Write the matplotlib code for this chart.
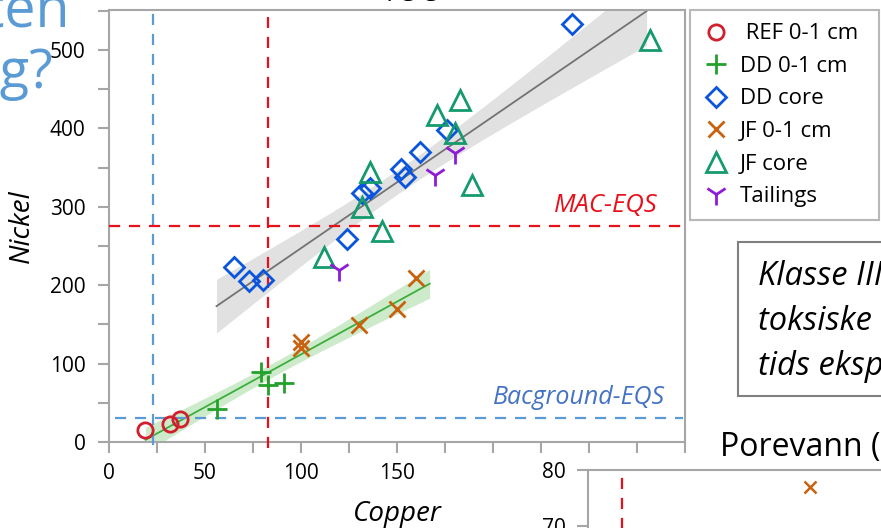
import numpy as np
import matplotlib
matplotlib.use('Agg')
import matplotlib.pyplot as plt
from matplotlib.lines import Line2D
from matplotlib.patches import Rectangle

plt.rcParams['font.family'] = 'Open Sans'

# sediment concentrations, copper vs nickel
ref_cu = [19, 32, 37]
ref_ni = [15, 23, 29]
dd_top_cu = [56, 79, 83, 91]
dd_top_ni = [42, 89, 73, 75]
dd_core_cu = [65, 73, 80, 124, 132, 136, 152, 154, 162, 176, 241]
dd_core_ni = [223, 205, 207, 259, 317, 324, 348, 338, 370, 398, 533]
jf_top_cu = [100, 100, 130, 150, 160]
jf_top_ni = [128, 120, 149, 170, 209]
jf_core_cu = [112, 132, 136, 142, 171, 180, 183, 189, 282]
jf_core_ni = [236, 300, 344, 269, 417, 394, 436, 328, 513]
tail_cu = [120, 170, 180]
tail_ni = [219, 341, 369]

# quality standards
cu_bg, ni_bg = 23, 30
cu_mac, ni_mac = 83, 275

# porewater panel
pw_cu = [13]
pw_ni = [77]
pw_cu_mac = 2

RED = '#E8101A'
BLUE_EQS = '#5B9BD5'
C_REF = '#D11F2E'
C_DDTOP = '#23A12B'
C_DDCORE = '#0A55DB'
C_JFTOP = '#C8620E'
C_JFCORE = '#159A6E'
C_TAIL = '#8E1CD6'
SPINE = '#A6A6A6'


def fit_band(x, y, x0, x1, t):
    x = np.asarray(x, float)
    y = np.asarray(y, float)
    slope, icpt = np.polyfit(x, y, 1)
    n = len(x)
    s = np.sqrt(((y - (icpt + slope * x)) ** 2).sum() / (n - 2))
    xs = np.linspace(x0, x1, 100)
    ys = icpt + slope * xs
    half = t * s * np.sqrt(1 / n + (xs - x.mean()) ** 2 / ((x - x.mean()) ** 2).sum())
    return xs, ys, half


fig = plt.figure(figsize=(8.81, 5.28), dpi=100)
W, H = 881, 528

ax = fig.add_axes([109 / W, 1 - 442 / H, 576 / W, 432 / H])
ax.set_xlim(0, 300)
ax.set_ylim(0, 551)

# regression lines with 95% confidence bands
top_cu = ref_cu + dd_top_cu + jf_top_cu
top_ni = ref_ni + dd_top_ni + jf_top_ni
xs, ys, hw = fit_band(top_cu, top_ni, 19, 167, 2.228)
ax.fill_between(xs, ys - hw, ys + hw, color='#CDEBCB', lw=0, zorder=1)
ax.plot(xs, ys, color='#3DAE3D', lw=1.3, zorder=2)

core_cu = dd_core_cu + jf_core_cu + tail_cu
core_ni = dd_core_ni + jf_core_ni + tail_ni
xs, ys, hw = fit_band(core_cu, core_ni, 56, 280, 2.080)
ax.fill_between(xs, ys - hw, ys + hw, color='#E1E1E1', lw=0, zorder=1)
ax.plot(xs, ys, color='#737373', lw=1.3, zorder=2)

# EQS guide lines
ax.plot([cu_mac, cu_mac], [-8, 542], color=RED, lw=1.6, dashes=(5, 4), clip_on=False, zorder=3)
ax.plot([cu_bg, cu_bg], [-4, 547], color=BLUE_EQS, lw=1.6, dashes=(5, 4), clip_on=False, zorder=3)
ax.plot([0, 299], [ni_mac, ni_mac], color=RED, lw=1.6, dashes=(5, 4), zorder=3)
ax.plot([3, 299], [ni_bg, ni_bg], color=BLUE_EQS, lw=1.6, dashes=(5, 4), zorder=3)
ax.text(286, ni_mac + 11, 'MAC-EQS', color=RED, fontsize=18.5, style='italic',
        ha='right', va='bottom')
ax.text(289.5, ni_bg + 11, 'Bacground-EQS', color='#4472C4', fontsize=18, style='italic',
        ha='right', va='bottom')

mk = dict(linestyle='none', zorder=4)
ax.plot(ref_cu, ref_ni, marker='o', ms=11, mfc='none', mec=C_REF, mew=2, **mk)
ax.plot(dd_top_cu, dd_top_ni, marker='+', ms=15, color=C_DDTOP, mew=2, **mk)
ax.plot(dd_core_cu, dd_core_ni, marker='D', ms=10.5, mfc='none', mec=C_DDCORE, mew=2, **mk)
ax.plot(jf_top_cu, jf_top_ni, marker='x', ms=11, color=C_JFTOP, mew=2, **mk)
ax.plot(jf_core_cu, jf_core_ni, marker='^', ms=14, mfc='none', mec=C_JFCORE, mew=2, **mk)
ax.plot(tail_cu, tail_ni, marker='1', ms=16, color=C_TAIL, mew=2, **mk)

ax.set_xticks(range(0, 301, 50))
ax.set_xticks(range(0, 301, 25), minor=True)
ax.set_yticks(range(0, 501, 100))
ax.set_yticks(range(0, 551, 50), minor=True)
for sp in ax.spines.values():
    sp.set_color(SPINE)
    sp.set_linewidth(1.5)
ax.tick_params(which='both', direction='out', length=8, width=1.5, color=SPINE,
               labelsize=15)
ax.tick_params(axis='y', pad=9)
ax.tick_params(axis='x', pad=7)
ax.set_xlabel('Copper', fontsize=20, style='italic', labelpad=12)
ax.set_ylabel('Nickel', fontsize=20, style='italic', labelpad=10)

handles = [
    Line2D([], [], marker='o', ms=11, mfc='none', mec=C_REF, mew=2, ls='none'),
    Line2D([], [], marker='+', ms=15, color=C_DDTOP, mew=2, ls='none'),
    Line2D([], [], marker='D', ms=10.5, mfc='none', mec=C_DDCORE, mew=2, ls='none'),
    Line2D([], [], marker='x', ms=11, color=C_JFTOP, mew=2, ls='none'),
    Line2D([], [], marker='^', ms=14, mfc='none', mec=C_JFCORE, mew=2, ls='none'),
    Line2D([], [], marker='1', ms=16, color=C_TAIL, mew=2, ls='none'),
]
labels = [' REF 0-1 cm', 'DD 0-1 cm', 'DD core', 'JF 0-1 cm', 'JF core', 'Tailings']
leg = fig.legend(handles, labels, loc='upper left',
                 bbox_to_anchor=(690 / W, 1 - 10 / H, 189 / W, 0), mode='expand',
                 fontsize=16, frameon=True, fancybox=False, borderpad=0.6,
                 labelspacing=0.52, handlelength=1.1, handletextpad=0.55,
                 borderaxespad=0)
leg.get_frame().set_edgecolor(SPINE)
leg.get_frame().set_linewidth(1.5)

# white backdrop of the porewater panel
fig.add_artist(Rectangle((476 / W, 0), 1, (528 - 455) / H, transform=fig.transFigure,
                         facecolor='white', edgecolor='none', zorder=1))

ax2 = fig.add_axes([588 / W, -0.30, 512 / W, 0.30 + 1 - 470 / H], zorder=2)
ax2.set_xlim(0, 30)
ax2.set_ylim(41.2, 80)
ax2.axvline(pw_cu_mac, color=RED, lw=1.6, dashes=(5, 4))
ax2.plot(pw_cu, pw_ni, marker='x', ms=8, color=C_JFTOP, mew=1.8, ls='none')
ax2.set_yticks([50, 60, 70, 80])
ax2.set_xticks([])
for sp in ax2.spines.values():
    sp.set_color(SPINE)
    sp.set_linewidth(1.5)
ax2.tick_params(direction='out', length=8, width=1.5, color=SPINE, labelsize=15, pad=8)
fig.text(720 / W, 1 - 447 / H, 'Porevann (µg/L)', fontsize=23, ha='left', va='center')

# class description box
fig.add_artist(Rectangle((738 / W, 1 - 396 / H), 300 / W, 154 / H, transform=fig.transFigure,
                         facecolor='white', edgecolor='#808080', lw=1.5))
for i, line in enumerate(['Klasse III: kroniske', 'toksiske effekter ved lang-', 'tids eksponering']):
    fig.text(758 / W, 1 - (285 + 45 * i) / H, line, fontsize=23.5, style='italic',
             ha='left', va='baseline')

# slide title fragments
fig.text(446 / W, 1 + 5 / H, 'Sediment (µg/g)', fontsize=18, ha='right', va='baseline')
fig.text(70 / W, 1 - 27 / H, 'Hvor høyt er innholdet av kobber og nikkel i sedimenten',
         fontsize=40, color=BLUE_EQS, ha='right', va='baseline')
fig.text(53 / W, 1 - 88 / H, 'etter gruvedrift og deponering?', fontsize=39, color=BLUE_EQS,
         ha='right', va='baseline')

fig.savefig('out.png', dpi=100)
